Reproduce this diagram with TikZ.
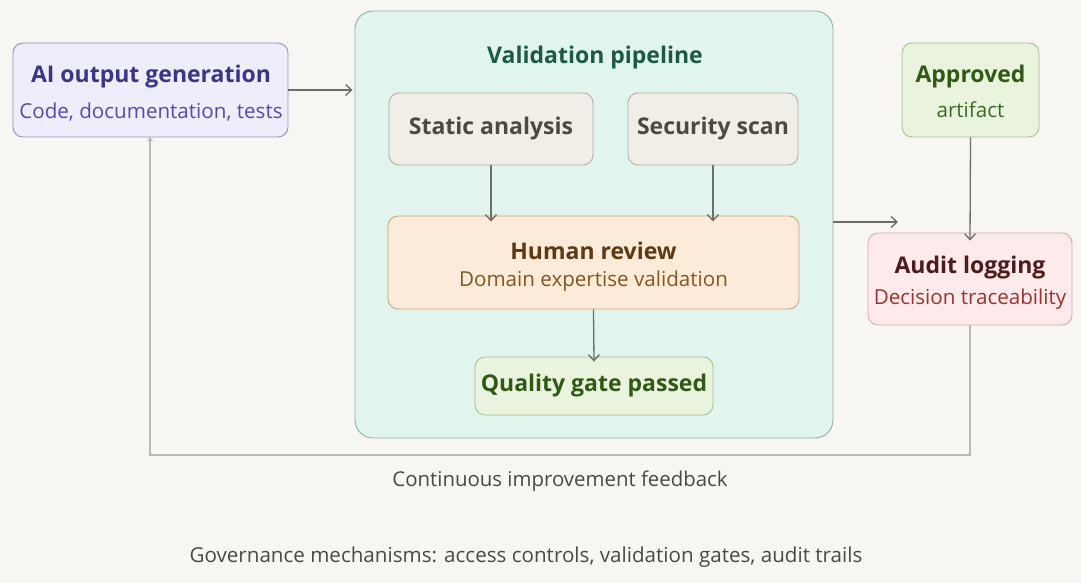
\documentclass[tikz,border=0pt]{standalone}
\usepackage{fontspec}
\setmainfont{Open Sans}
\usetikzlibrary{arrows.meta}
\definecolor{bg}{HTML}{F8F6F2}
\definecolor{aiF}{HTML}{EEEDFB}\definecolor{aiD}{HTML}{918DC6}\definecolor{aiT}{HTML}{3C3489}\definecolor{aiS}{HTML}{534AB7}
\definecolor{piF}{HTML}{E2F4EE}\definecolor{piD}{HTML}{8DB0A4}\definecolor{piT}{HTML}{1A5A48}
\definecolor{stF}{HTML}{F1EDE7}\definecolor{stD}{HTML}{B3AFA6}\definecolor{stT}{HTML}{4A4944}
\definecolor{huF}{HTML}{FBEBD8}\definecolor{huD}{HTML}{C9A67C}\definecolor{huT}{HTML}{5E3A12}\definecolor{huS}{HTML}{85561C}
\definecolor{grF}{HTML}{EAF3DE}\definecolor{grD}{HTML}{A2C290}\definecolor{grT}{HTML}{2E5A14}\definecolor{grS}{HTML}{3D6B22}
\definecolor{auF}{HTML}{FCEBEA}\definecolor{auD}{HTML}{D6A8A6}\definecolor{auT}{HTML}{4E1A1A}\definecolor{auS}{HTML}{A0302E}
\definecolor{arr}{HTML}{6E6D68}\definecolor{fbC}{HTML}{BAB8B2}\definecolor{txt}{HTML}{4A4946}
\tikzset{
  box/.style={draw, rounded corners=10pt, line width=0.9pt, align=center, inner sep=0pt},
  conn/.style={draw=arr, line width=1.3pt, -{Straight Barb[length=6pt,width=11pt,line width=1.3pt]}},
  fb/.style={draw=fbC, line width=1.3pt, -{Straight Barb[length=3pt,width=5pt,line width=1pt]}},
  ttl/.style={font=\fontsize{23}{27}\selectfont\bfseries},
  sub/.style={font=\fontsize{20.6}{24}\selectfont},
  plain/.style={font=\fontsize{23}{27}\selectfont\bfseries},
}
\begin{document}
\begin{tikzpicture}[x=1pt,y=-1pt]
\useasboundingbox (0,0) rectangle (1081,583);
\fill[bg] (0,0) rectangle (1081,583);
% pipeline container
\node[box, fill=piF, draw=piD, rounded corners=18pt, minimum width=478pt, minimum height=427pt] (pipe) at (594,224.5) {};
\node[ttl, text=piT] (ptitle) at (595,58) {Validation pipeline};
% AI output
\node[box, fill=aiF, draw=aiD, minimum width=275pt, minimum height=94pt] (ai) at (150.5,90) {};
\node[ttl, text=aiT] (ait) at (151,77) {AI output generation};
\node[sub, text=aiS] (ais) at (151,112) {Code, documentation, tests};
% static / security
\node[box, fill=stF, draw=stD, minimum width=204pt, minimum height=72pt, plain, text=stT] (static) at (491,129) {Static analysis};
\node[box, fill=stF, draw=stD, minimum width=170pt, minimum height=72pt, plain, text=stT] (sec) at (713,129) {Security scan};
% human review
\node[box, fill=huF, draw=huD, minimum width=411pt, minimum height=93pt] (human) at (593.5,262.5) {};
\node[ttl, text=huT] (hut) at (593.5,251) {Human review};
\node[sub, text=huS] (hus) at (593.5,281) {Domain expertise validation};
% quality gate
\node[box, fill=grF, draw=grD, minimum width=238pt, minimum height=58pt, ttl, text=grT] (qual) at (594,386) {Quality gate passed};
% approved
\node[box, fill=grF, draw=grD, minimum width=137pt, minimum height=94pt] (appr) at (970.5,90) {};
\node[ttl, text=grT] (apt) at (970.5,77) {Approved};
\node[sub, text=grS] (aps) at (970.5,110) {artifact};
% audit
\node[box, fill=auF, draw=auD, minimum width=204pt, minimum height=92pt] (audit) at (970,279) {};
\node[ttl, text=auT] (aut) at (970,268) {Audit logging};
\node[sub, text=auS] (aus) at (970,299) {Decision traceability};
% connectors
\coordinate (auin) at (898,222);
\draw[conn] (ai.east) -- ([xshift=-2pt]ai.east -| pipe.west);
\draw[conn] (static.south) -- ([yshift=-6pt]static.south |- human.north);
\draw[conn] (sec.south) -- ([yshift=-6pt]sec.south |- human.north);
\draw[conn] (human.south) -- ([yshift=-5pt]qual.north);
\draw[conn] (appr.south) -- ([yshift=-8pt]audit.north);
\draw[conn] (pipe.east |- auin) -- (auin);
\coordinate (fbR) at (970,455);
\coordinate (fbL) at (150,455);
\draw[fb] (audit.south) -- (fbR) -- (fbL) -- (fbL |- ai.south);
\node[text=txt, font=\fontsize{20.4}{24}\selectfont] (fbtext) at (560,481) {Continuous improvement feedback};
\node[text=txt, font=\fontsize{20.6}{24}\selectfont] (gov) at (526,557) {Governance mechanisms: access controls, validation gates, audit trails};
\end{tikzpicture}
\end{document}
